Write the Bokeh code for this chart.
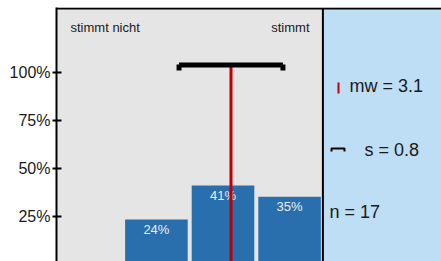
from bokeh.plotting import figure
from bokeh.models import Range1d, FixedTicker, PrintfTickFormatter
from bokeh.core.properties import value
from bokeh.embed import file_html
from bokeh.resources import INLINE

# ---- data ----
categories = [2, 3, 4]            # answer scale 1..4 (stimmt nicht .. stimmt)
percent = [23.5, 41.2, 35.3]
bar_labels = ["24%", "41%", "35%"]
mean_val = [3.12]
sd_val = [0.78]
n_val = [17]
y_ticks = [25, 50, 75, 100]
scale_labels = ["stimmt nicht", "stimmt"]

FONT = value("Liberation Sans")
W, H = 441, 261
LEFT = 56
TOP = 7
PXU = 66.6      # pixels per category unit
PXP = 1.92      # pixels per percent
x0, x1 = 0.5, 0.5 + (W - LEFT) / PXU
y1 = 100 + (72 - TOP) / PXP
y0 = y1 - (H - TOP) / PXP

def X(px):
    return 0.5 + (px - LEFT) / PXU

def Y(py):
    return y1 - (py - TOP) / PXP

p = figure(width=W, height=H, output_backend="svg", toolbar_location=None,
           x_range=Range1d(x0, x1), y_range=Range1d(y0, y1),
           x_axis_location=None, min_border_left=LEFT, min_border_right=0,
           min_border_top=TOP, min_border_bottom=0)
p.background_fill_color = "#e5e5e5"
p.border_fill_color = "white"
p.outline_line_color = None
p.grid.visible = False

# right info panel
p.quad(left=[4.5], right=[x1], bottom=[y0], top=[y1], fill_color="#bddef5", line_color=None)
# white strip above the frame top line
p.quad(left=[x0], right=[x1], bottom=[Y(8)], top=[y1], fill_color="white", line_color=None)

# bars
p.vbar(x=categories, top=percent, bottom=0, width=0.94, fill_color="#2a6fad", line_color=None)
p.text(x=categories, y=percent, text=bar_labels, text_align="center", text_baseline="middle",
       y_offset=10, text_color="#eeeeee", text_font_size="13px", text_font=FONT)

# mean line
m = mean_val[0]
s = sd_val[0]
p.segment(x0=[m], y0=[Y(66)], x1=[m], y1=[0], line_color="#c00000", line_width=3)

# sd bracket
p.segment(x0=[m - s], y0=[Y(64.5)], x1=[m + s], y1=[Y(64.5)], line_color="black", line_width=5)
p.segment(x0=[m - s, m + s], y0=[Y(64), Y(64)], x1=[m - s, m + s], y1=[Y(70), Y(70)],
          line_color="black", line_width=5)

# scale end labels
p.text(x=[X(70)], y=[Y(27)], text=[scale_labels[0]], text_align="left", text_baseline="middle",
       text_font_size="13px", text_font=FONT, text_color="#1a1a1a")
p.text(x=[X(309)], y=[Y(27)], text=[scale_labels[1]], text_align="right", text_baseline="middle",
       text_font_size="13px", text_font=FONT, text_color="#1a1a1a")

# borders
p.segment(x0=[x0], y0=[Y(8)], x1=[x1], y1=[Y(8)], line_color="black", line_width=2)
p.segment(x0=[4.5], y0=[y0], x1=[4.5], y1=[Y(8)], line_color="black", line_width=2)

# panel stats
p.segment(x0=[X(338)], y0=[Y(82)], x1=[X(338)], y1=[Y(93)], line_color="#c00000", line_width=2)
p.text(x=[X(349)], y=[Y(85)], text=["mw = %.1f" % m], text_align="left", text_baseline="middle",
       text_font_size="18px", text_font=FONT, text_color="#1a1a1a")
p.line(x=[X(331), X(331), X(344), X(344)], y=[Y(151), Y(148), Y(148), Y(151)],
       line_color="black", line_width=2)
p.text(x=[X(364)], y=[Y(149)], text=["s = %.1f" % s], text_align="left", text_baseline="middle",
       text_font_size="18px", text_font=FONT, text_color="#1a1a1a")
p.text(x=[X(329)], y=[Y(211.5)], text=["n = %d" % n_val[0]], text_align="left", text_baseline="middle",
       text_font_size="18px", text_font=FONT, text_color="#1a1a1a")

# y axis
ax = p.yaxis[0]
ax.ticker = FixedTicker(ticks=y_ticks)
ax.formatter = PrintfTickFormatter(format="%d%%")
ax.axis_line_width = 2
ax.axis_line_color = "black"
ax.major_tick_line_width = 2
ax.major_tick_line_color = "black"
ax.major_tick_in = 5
ax.major_tick_out = 4
ax.minor_tick_line_color = None
ax.major_label_standoff = 2
ax.major_label_text_font_size = "16px"
ax.major_label_text_font = "Liberation Sans"
ax.major_label_text_color = "#1a1a1a"

open("out.html", "w").write(file_html(p, INLINE))
